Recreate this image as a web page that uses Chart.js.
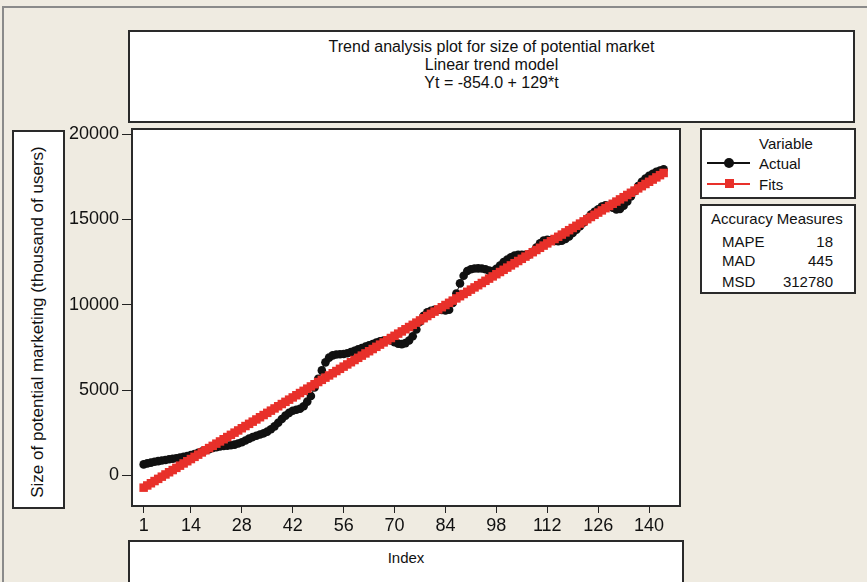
<!DOCTYPE html>
<html>
<head>
<meta charset="utf-8">
<script src="https://cdn.jsdelivr.net/npm/chart.js@4"></script>
<style>
  html, body { margin:0; padding:0; }
  body { width:867px; height:582px; overflow:hidden; position:relative; background:#EFEBE1;
         font-family:"Liberation Sans", Arial, sans-serif; color:#111; }
  .frame { position:absolute; left:2px; top:6px; width:900px; height:600px; border-left:2px solid #8a8a8a; border-top:2px solid #8a8a8a; box-sizing:border-box; }
  .box { position:absolute; background:#fff; border:2px solid #2a2a2a; box-sizing:border-box; }
  .txt { position:absolute; white-space:nowrap; }
  #chartWrap { position:absolute; left:0; top:0; width:867px; height:582px; }
</style>
</head>
<body>
<div class="frame"></div>
<div class="box" style="left:128px;top:30px;width:727px;height:93px;">
  <div class="txt" style="left:0;right:0;top:6px;text-align:center;font-size:16px;line-height:18px;">
    Trend analysis plot for size of potential market<br>Linear trend model<br>Yt = -854.0 + 129*t
  </div>
</div>
<div class="box" style="left:12px;top:130px;width:53px;height:379px;">
  <div class="txt" style="left:24px;top:190px;font-size:17px;transform:translate(-50%,-50%) rotate(-90deg);">Size of potential marketing (thousand of users)</div>
</div>
<div class="box" id="plotBox" style="left:131px;top:128px;width:550px;height:379px;"></div>
<div class="box" style="left:128px;top:540px;width:556px;height:60px;">
  <div class="txt" style="left:0;right:0;top:7px;text-align:center;font-size:15px;">Index</div>
</div>
<div class="box" style="left:700px;top:128px;width:156px;height:71px;">
  <div class="txt" style="left:57px;top:5px;font-size:15px;">Variable</div>
  <div style="position:absolute;left:5px;top:32px;width:43px;height:1.5px;background:#111;"></div>
  <div style="position:absolute;left:22px;top:28px;width:10px;height:10px;border-radius:50%;background:#111;"></div>
  <div class="txt" style="left:57px;top:25px;font-size:15px;">Actual</div>
  <div style="position:absolute;left:5px;top:53px;width:43px;height:1.5px;background:#E8302A;"></div>
  <div style="position:absolute;left:23px;top:49px;width:9px;height:9px;background:#E8302A;"></div>
  <div class="txt" style="left:57px;top:46px;font-size:15px;">Fits</div>
</div>
<div class="box" style="left:700px;top:204px;width:156px;height:90px;">
  <div class="txt" style="left:9px;top:4px;font-size:15px;">Accuracy Measures</div>
  <div class="txt" style="left:20px;top:27px;font-size:15px;">MAPE</div>
  <div class="txt" style="right:21px;top:27px;font-size:15px;">18</div>
  <div class="txt" style="left:20px;top:46px;font-size:15px;">MAD</div>
  <div class="txt" style="right:21px;top:46px;font-size:15px;">445</div>
  <div class="txt" style="left:20px;top:67px;font-size:15px;">MSD</div>
  <div class="txt" style="right:21px;top:67px;font-size:15px;">312780</div>
</div>
<div id="chartWrap"><canvas id="c" width="867" height="582"></canvas></div>

<script>
// ---- data ----
const xTicks = [1, 14, 28, 42, 56, 70, 84, 98, 112, 126, 140];
const yTicks = [0, 5000, 10000, 15000, 20000];

const actual = [
  640, 700, 740, 790, 830, 870, 900, 940, 970, 1000,
  1040, 1080, 1130, 1180, 1250, 1320, 1390, 1470, 1530, 1600,
  1650, 1690, 1720, 1740, 1760, 1800, 1860, 1940, 2040, 2150,
  2240, 2320, 2390, 2460, 2560, 2700, 2870, 3080, 3300, 3500,
  3660, 3780, 3840, 3900, 4050, 4320, 4650, 5150, 5650, 6150,
  6620, 6900, 7030, 7080, 7100, 7110, 7150, 7220, 7300, 7380,
  7460, 7540, 7620, 7700, 7780, 7850, 7900, 7930, 7900, 7800,
  7720, 7690, 7750, 7900, 8150, 8550, 9000, 9350, 9550, 9650,
  9700, 9700, 9690, 9660, 9700, 10100, 10650, 11250, 11700, 11980,
  12080, 12120, 12130, 12120, 12080, 12000, 11980, 12100, 12300, 12500,
  12650, 12780, 12880, 12920, 12930, 12920, 12950, 13100, 13350, 13600,
  13760, 13800, 13780, 13740, 13720, 13750, 13850, 14000, 14200, 14400,
  14600, 14820, 15050, 15280, 15450, 15600, 15750, 15830, 15800, 15680,
  15580, 15620, 15800, 16050, 16350, 16650, 16950, 17200, 17400, 17550,
  17680, 17790, 17870, 17940
];

const fits = [
  -725, -596, -467, -338, -209, -80, 49, 178, 307, 436,
  565, 694, 823, 952, 1081, 1210, 1339, 1468, 1597, 1726,
  1855, 1984, 2113, 2242, 2371, 2500, 2629, 2758, 2887, 3016,
  3145, 3274, 3403, 3532, 3661, 3790, 3919, 4048, 4177, 4306,
  4435, 4564, 4693, 4822, 4951, 5080, 5209, 5338, 5467, 5596,
  5725, 5854, 5983, 6112, 6241, 6370, 6499, 6628, 6757, 6886,
  7015, 7144, 7273, 7402, 7531, 7660, 7789, 7918, 8047, 8176,
  8305, 8434, 8563, 8692, 8821, 8950, 9079, 9208, 9337, 9466,
  9595, 9724, 9853, 9982, 10111, 10240, 10369, 10498, 10627, 10756,
  10885, 11014, 11143, 11272, 11401, 11530, 11659, 11788, 11917, 12046,
  12175, 12304, 12433, 12562, 12691, 12820, 12949, 13078, 13207, 13336,
  13465, 13594, 13723, 13852, 13981, 14110, 14239, 14368, 14497, 14626,
  14755, 14884, 15013, 15142, 15271, 15400, 15529, 15658, 15787, 15916,
  16045, 16174, 16303, 16432, 16561, 16690, 16819, 16948, 17077, 17206,
  17335, 17464, 17593, 17722
];

const indexValues = actual.map((_, i) => i + 1);
const toPts = arr => arr.map((v, i) => ({ x: indexValues[i], y: v }));

new Chart(document.getElementById('c'), {
  type: 'line',
  data: {
    datasets: [
      { label: 'Fits', data: toPts(fits), borderColor: '#E8302A', backgroundColor: '#E8302A',
        pointStyle: 'rect', pointRadius: 6, pointBorderWidth: 0, borderWidth: 1, order: 0 },
      { label: 'Actual', data: toPts(actual), borderColor: '#111', backgroundColor: '#111',
        pointStyle: 'circle', pointRadius: 4.3, pointBorderWidth: 0, borderWidth: 1, order: 1 }
    ]
  },
  options: {
    responsive: false,
    animation: false,
    devicePixelRatio: 1,
    layout: { padding: { top: 129, right: 187, bottom: 0, left: 0 } },
    plugins: { legend: { display: false }, tooltip: { enabled: false }, title: { display: false } },
    scales: {
      x: {
        type: 'linear', min: -2.2, max: 148.5,
        afterBuildTicks: s => { s.ticks = xTicks.map(v => ({ value: v })); },
        afterFit: s => { s.height = 76; },
        ticks: { autoSkip: false, maxRotation: 0, padding: 2, color: '#111',
                 font: { family: '"Liberation Sans", Arial, sans-serif', size: 18 },
                 callback: v => String(v) },
        grid: { drawOnChartArea: false, drawTicks: true, tickLength: 7, color: '#222', lineWidth: 1 },
        border: { display: false }
      },
      y: {
        type: 'linear', min: -1800, max: 20300,
        afterBuildTicks: s => { s.ticks = yTicks.map(v => ({ value: v })); },
        afterFit: s => { s.width = 132; },
        ticks: { padding: 3, color: '#111',
                 font: { family: '"Liberation Sans", Arial, sans-serif', size: 18 },
                 callback: v => String(v) },
        grid: { drawOnChartArea: false, drawTicks: true, tickLength: 10, color: '#222', lineWidth: 1 },
        border: { display: false }
      }
    }
  }
});
</script>
</body>
</html>
